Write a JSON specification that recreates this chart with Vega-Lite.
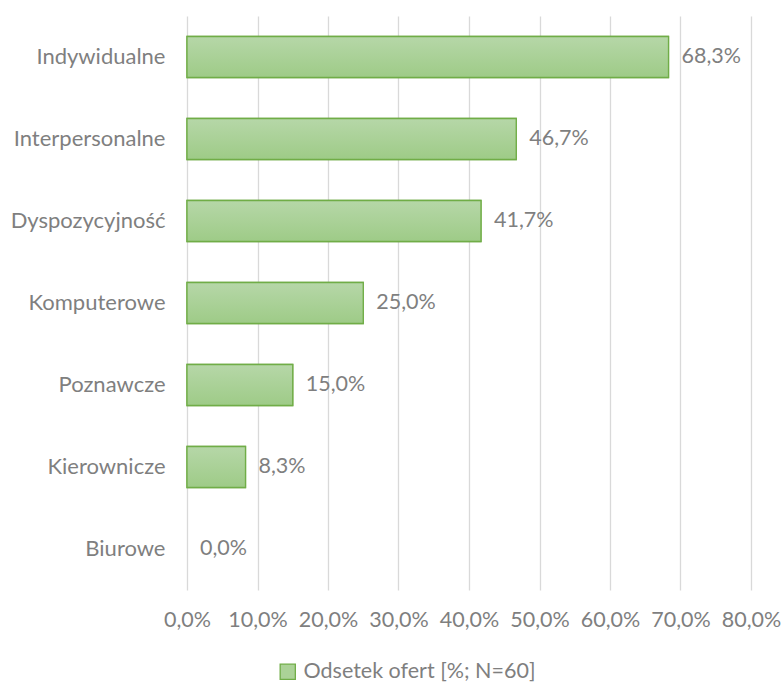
{
  "$schema": "https://vega.github.io/schema/vega-lite/v6.json",
  "autosize": {"type": "none"},
  "width": 564,
  "height": 574,
  "padding": {"left": 187, "top": 16, "right": 32, "bottom": 94},
  "background": "white",
  "config": {
    "locale": {"number": {"decimal": ",", "thousands": " ", "grouping": [3], "currency": ["", " zł"]}},
    "font": "Lato",
    "view": {"stroke": null}
  },
  "data": {
    "values": [
      {"category": "Indywidualne", "value": 0.683, "series": "Odsetek ofert [%; N=60]"},
      {"category": "Interpersonalne", "value": 0.467, "series": "Odsetek ofert [%; N=60]"},
      {"category": "Dyspozycyjność", "value": 0.417, "series": "Odsetek ofert [%; N=60]"},
      {"category": "Komputerowe", "value": 0.25, "series": "Odsetek ofert [%; N=60]"},
      {"category": "Poznawcze", "value": 0.15, "series": "Odsetek ofert [%; N=60]"},
      {"category": "Kierownicze", "value": 0.083, "series": "Odsetek ofert [%; N=60]"},
      {"category": "Biurowe", "value": 0.0, "series": "Odsetek ofert [%; N=60]"}
    ]
  },
  "encoding": {
    "y": {
      "field": "category", "type": "nominal", "sort": null,
      "scale": {"paddingInner": 0.5, "paddingOuter": 0.25},
      "axis": {"title": null, "domain": false, "ticks": false, "labelPadding": 22, "labelFontSize": 22, "labelColor": "#7f7f7f", "labelFont": "Lato", "labelLimit": 0}
    },
    "x": {
      "field": "value", "type": "quantitative",
      "scale": {"domain": [0, 0.8], "nice": false},
      "axis": {"title": null, "format": ".1%", "values": [0, 0.1, 0.2, 0.3, 0.4, 0.5, 0.6, 0.7, 0.8], "domain": false, "ticks": false, "labelPadding": 19, "labelFontSize": 21.5, "labelColor": "#7f7f7f", "gridColor": "#d9d9d9", "gridWidth": 1.3, "labelFlush": false}
    }
  },
  "layer": [
    {
      "transform": [{"filter": "datum.value > 0"}],
      "mark": {"type": "bar", "stroke": "#70ad47", "strokeWidth": 1.3},
      "encoding": {
        "fill": {
          "field": "series", "type": "nominal",
          "scale": {"range": ["#abd297"]},
          "legend": {"title": null, "orient": "none", "legendX": 90, "legendY": 645, "direction": "horizontal", "symbolType": "square", "symbolSize": 230, "symbolStrokeColor": "#70ad47", "symbolStrokeWidth": 1.3, "labelFontSize": 21.5, "labelColor": "#7f7f7f", "labelOffset": 5, "labelLimit": 0}
        }
      }
    },
    {
      "transform": [{"filter": "datum.value > 0"}],
      "mark": {
        "type": "bar", "stroke": "#70ad47", "strokeWidth": 1.3,
        "fill": {"gradient": "linear", "x1": 0, "y1": 0, "x2": 0, "y2": 1, "stops": [{"offset": 0, "color": "#b6d7a8"}, {"offset": 1, "color": "#9ecb87"}]}
      }
    },
    {
      "mark": {"type": "text", "align": "left", "baseline": "middle", "dx": 13, "fontSize": 21.5, "color": "#7f7f7f"},
      "encoding": {"text": {"field": "value", "type": "quantitative", "format": ".1%"}}
    }
  ]
}
